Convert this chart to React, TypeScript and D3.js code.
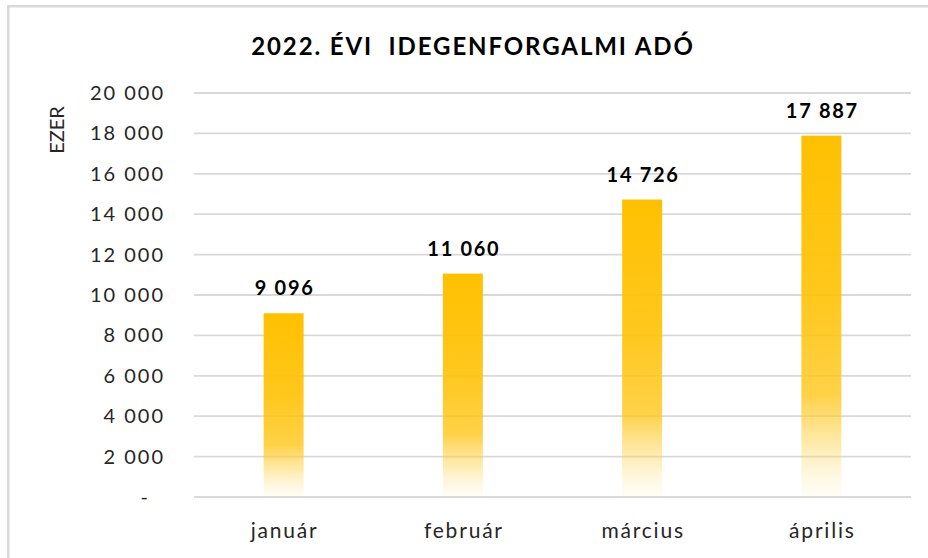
import { useEffect, useRef } from "react";
import * as d3 from "d3";

const months = ["január", "február", "március", "április"];
const values = [9096, 11060, 14726, 17887];
const yTicks = [0, 2000, 4000, 6000, 8000, 10000, 12000, 14000, 16000, 18000, 20000];

const fmt = (v: number) => (v === 0 ? "-" : d3.format(",")(v).replace(/,/g, " "));

export default function App() {
  const svgRef = useRef<SVGSVGElement>(null);

  useEffect(() => {
    const el = svgRef.current;
    if (!el) return;
    d3.select(el).selectAll("*").remove();

    const W = 928;
    const H = 558;
    const m = { top: 93, right: 17, bottom: 61, left: 194 };
    const iw = W - m.left - m.right;
    const ih = H - m.top - m.bottom;
    const font = "Lato, 'Open Sans', sans-serif";

    const svg = d3.select(el).attr("viewBox", `0 0 ${W} ${H}`);

    svg.append("rect").attr("width", W).attr("height", H).attr("fill", "#fff");

    // frame (top + left edge of the cropped chart border)
    svg.append("rect").attr("x", 7).attr("y", 5).attr("width", W - 7).attr("height", 2.5).attr("fill", "#d9d9d9");
    svg.append("rect").attr("x", 7).attr("y", 5).attr("width", 2.5).attr("height", H - 5).attr("fill", "#d9d9d9");

    const defs = svg.append("defs");
    const grad = defs
      .append("linearGradient")
      .attr("id", "barGrad")
      .attr("x1", 0)
      .attr("y1", 0)
      .attr("x2", 0)
      .attr("y2", 1);
    [
      [0, "#ffc000", 1],
      [0.45, "#ffc30a", 0.92],
      [0.72, "#ffc61a", 0.8],
      [0.85, "#ffd040", 0.45],
      [1, "#ffe9a8", 0.1],
    ].forEach(([o, c, a]) => {
      grad.append("stop").attr("offset", o as number).attr("stop-color", c as string).attr("stop-opacity", a as number);
    });

    const g = svg.append("g").attr("transform", `translate(${m.left},${m.top})`);

    const x = d3.scaleBand().domain(months).range([0, iw]).paddingInner(0.777).paddingOuter(0.3885);
    const y = d3.scaleLinear().domain([0, 20000]).range([ih, 0]);

    // grid
    g.selectAll(".grid")
      .data(yTicks)
      .enter()
      .append("line")
      .attr("x1", 0)
      .attr("x2", iw)
      .attr("y1", (d) => y(d))
      .attr("y2", (d) => y(d))
      .attr("stroke", "#d9d9d9")
      .attr("stroke-width", 1.8);

    // y tick labels
    g.selectAll(".ytick")
      .data(yTicks)
      .enter()
      .append("text")
      .attr("x", (d) => (d === 0 ? -44 : -29))
      .attr("y", (d) => y(d))
      .attr("dy", "0.35em")
      .attr("text-anchor", "end")
      .attr("fill", "#262626")
      .style("font-family", font)
      .style("font-size", "20px")
      .style("letter-spacing", "2px")
      .text(fmt);

    // bars
    g.selectAll(".bar")
      .data(values)
      .enter()
      .append("rect")
      .attr("x", (_, i) => x(months[i])!)
      .attr("width", x.bandwidth())
      .attr("y", (d) => y(d))
      .attr("height", (d) => ih - y(d))
      .attr("fill", "url(#barGrad)");

    // value labels
    g.selectAll(".val")
      .data(values)
      .enter()
      .append("text")
      .attr("x", (_, i) => x(months[i])! + x.bandwidth() / 2 + 1)
      .attr("y", (d) => y(d) - 18)
      .attr("text-anchor", "middle")
      .attr("fill", "#000")
      .style("font-family", font)
      .style("font-size", "20px")
      .style("font-weight", "bold")
      .style("letter-spacing", "1.7px")
      .text(fmt);

    // category labels
    g.selectAll(".cat")
      .data(months)
      .enter()
      .append("text")
      .attr("x", (d) => x(d)! + x.bandwidth() / 2 + 1)
      .attr("y", ih + 41)
      .attr("text-anchor", "middle")
      .attr("fill", "#262626")
      .style("font-family", font)
      .style("font-size", "21px")
      .style("letter-spacing", "1.8px")
      .text((d) => d);

    // axis title
    svg
      .append("text")
      .attr("transform", "translate(64,130) rotate(-90)")
      .attr("text-anchor", "middle")
      .attr("fill", "#262626")
      .style("font-family", font)
      .style("font-size", "20px")
      .text("EZER");

    // chart title
    svg
      .append("text")
      .attr("x", 473)
      .attr("y", 55)
      .attr("text-anchor", "middle")
      .attr("fill", "#000")
      .style("font-family", font)
      .style("font-size", "24px")
      .style("font-weight", "bold")
      .style("letter-spacing", "1.9px")
      .style("white-space", "pre")
      .text("2022. ÉVI  IDEGENFORGALMI ADÓ");
  }, []);

  return (
    <svg
      ref={svgRef}
      width={928}
      height={558}
      style={{ position: "absolute", left: 0, top: 0, display: "block" }}
    />
  );
}
